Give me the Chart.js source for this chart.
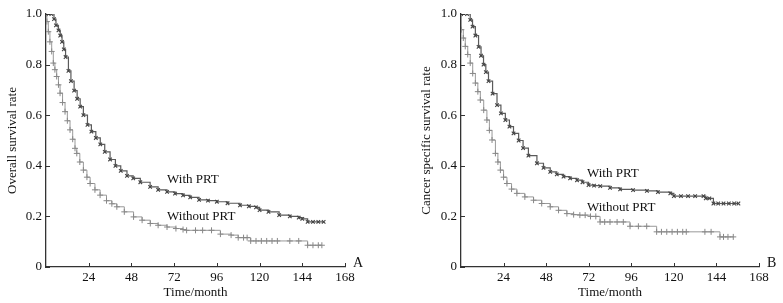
<!DOCTYPE html>
<html>
<head>
<meta charset="utf-8">
<script src="https://cdn.jsdelivr.net/npm/chart.js@4.4.0/dist/chart.umd.min.js"></script>
<style>
  body { margin: 0; background: #fff; }
  #wrapA { position: absolute; left: 0; top: 0; }
  #wrapB { position: absolute; left: 414px; top: 0; }
</style>
</head>
<body>
<div id="wrapA"><canvas id="chartA" width="392" height="303"></canvas></div>
<div id="wrapB"><canvas id="chartB" width="369" height="303"></canvas></div>
<script>
// tick labels
const xTickLabels = ['', '24', '48', '72', '96', '120', '144', '168'];
const yTickLabels = ['0', '0.2', '0.4', '0.6', '0.8', '1.0'];

// panel A - overall survival
const aWithT = [0, 3, 4.5, 5.6, 7, 8, 9, 10, 11, 12.6, 14, 15.8, 17.5, 19.2, 21, 23.3, 25.5, 28, 30.5, 33, 36, 39, 42, 45.5, 49, 53, 58.5, 63, 68, 72.5, 77, 81, 86, 91, 96, 102, 109, 114, 118, 120, 125, 131, 137, 142, 144, 147, 150, 153, 156];
const aWithV = [1.0, 1.0, 0.98, 0.955, 0.935, 0.915, 0.89, 0.86, 0.83, 0.775, 0.735, 0.697, 0.665, 0.634, 0.6, 0.562, 0.535, 0.51, 0.485, 0.455, 0.425, 0.4, 0.38, 0.36, 0.35, 0.335, 0.317, 0.305, 0.297, 0.29, 0.283, 0.275, 0.265, 0.262, 0.258, 0.252, 0.244, 0.24, 0.236, 0.225, 0.218, 0.205, 0.2, 0.195, 0.19, 0.178, 0.178, 0.178, 0.178];
const aWithoutT = [0, 0.5, 1.3, 2.2, 3.2, 4.1, 5, 6, 7, 7.9, 9.3, 10.7, 12, 13.5, 15, 16.3, 17.3, 19, 21, 23, 24.8, 27.5, 30.4, 34, 37, 39.8, 44, 49.2, 54, 58.6, 63, 68, 73, 77, 79, 84, 88, 93, 98, 104, 108, 111, 113, 115, 118, 121, 124, 127, 130, 137, 142, 147, 150, 153, 155];
const aWithoutV = [1.0, 0.97, 0.93, 0.89, 0.852, 0.806, 0.78, 0.753, 0.72, 0.687, 0.65, 0.614, 0.578, 0.542, 0.505, 0.469, 0.449, 0.415, 0.383, 0.355, 0.33, 0.305, 0.284, 0.262, 0.25, 0.238, 0.218, 0.198, 0.185, 0.172, 0.165, 0.158, 0.152, 0.148, 0.145, 0.145, 0.145, 0.145, 0.13, 0.126, 0.116, 0.116, 0.116, 0.103, 0.103, 0.103, 0.103, 0.103, 0.103, 0.103, 0.103, 0.086, 0.086, 0.086, 0.086];

// panel B - cancer specific survival
const bWithT = [0, 3.4, 5.2, 6.5, 8.1, 9.9, 11.3, 12.7, 14, 15.5, 17.8, 20.3, 22.5, 25, 27.3, 29.6, 32.5, 35, 38, 42.8, 46.5, 50.3, 54, 57.8, 61.5, 65.4, 68.5, 71.9, 75, 78.5, 84, 89.7, 97, 104.8, 111, 118, 120, 124, 128, 132, 136.7, 138, 140, 142.3, 145, 148, 151, 154, 156.4];
const bWithV = [1.0, 1.0, 0.977, 0.95, 0.915, 0.87, 0.835, 0.8, 0.77, 0.735, 0.685, 0.64, 0.607, 0.581, 0.555, 0.528, 0.5, 0.47, 0.44, 0.41, 0.392, 0.376, 0.366, 0.357, 0.35, 0.343, 0.335, 0.324, 0.322, 0.32, 0.313, 0.307, 0.304, 0.301, 0.296, 0.291, 0.28, 0.28, 0.28, 0.28, 0.28, 0.271, 0.271, 0.251, 0.251, 0.251, 0.251, 0.251, 0.251];
const bWithoutT = [0, 0.2, 1.3, 2.4, 3.8, 5.2, 6.6, 8.1, 9.5, 10.9, 12.8, 14.6, 16, 17.5, 19.4, 20.8, 22.2, 24, 25.9, 28.5, 31.5, 36, 40.9, 45.5, 50.3, 55, 59.7, 63.5, 67, 70, 73, 76, 78.4, 81, 84, 88, 91.5, 95.3, 100, 104.7, 110.3, 113, 116, 119, 122, 125, 127, 137.5, 141, 146, 148, 150.5, 153.5];
const bWithoutV = [1.0, 0.938, 0.905, 0.872, 0.84, 0.806, 0.765, 0.727, 0.693, 0.66, 0.62, 0.581, 0.54, 0.502, 0.449, 0.415, 0.383, 0.355, 0.33, 0.308, 0.291, 0.277, 0.264, 0.251, 0.238, 0.224, 0.211, 0.207, 0.205, 0.205, 0.2, 0.2, 0.178, 0.178, 0.178, 0.178, 0.178, 0.161, 0.161, 0.161, 0.139, 0.139, 0.139, 0.139, 0.139, 0.139, 0.139, 0.139, 0.139, 0.119, 0.119, 0.119, 0.119];

function pts(t, v) {
  return t.map((x, i) => ({ x: x, y: v[i] }));
}

// inner tick marks, curve labels, panel letter
const extras = {
  id: 'extras',
  afterDraw(chart, args, opts) {
    const { ctx, chartArea, scales } = chart;
    ctx.save();
    ctx.strokeStyle = '#333';
    ctx.lineWidth = 1;
    scales.x.ticks.forEach(t => {
      if (t.value === 0) return;
      const px = Math.round(scales.x.getPixelForValue(t.value)) + 0.5;
      ctx.beginPath();
      ctx.moveTo(px, chartArea.bottom);
      ctx.lineTo(px, chartArea.bottom - 4);
      ctx.stroke();
    });
    scales.y.ticks.forEach(t => {
      const py = Math.round(scales.y.getPixelForValue(t.value)) + 0.5;
      ctx.beginPath();
      ctx.moveTo(chartArea.left, py);
      ctx.lineTo(chartArea.left + 4, py);
      ctx.stroke();
    });
    ctx.fillStyle = '#111';
    ctx.textBaseline = 'middle';
    ctx.font = '13px "Liberation Serif"';
    opts.labels.forEach(l => {
      ctx.fillText(l.text, scales.x.getPixelForValue(l.t), scales.y.getPixelForValue(l.v));
    });
    ctx.font = '14px "Liberation Serif"';
    ctx.fillText(opts.letter, chartArea.right + 8, chartArea.bottom - 4);
    ctx.restore();
  }
};

function makeChart(id, withT, withV, woT, woV, yTitle, letter, labels, padRight, yWidth) {
  return new Chart(document.getElementById(id), {
    type: 'line',
    data: {
      datasets: [
        {
          label: 'Without PRT',
          data: pts(woT, woV),
          stepped: true,
          borderColor: '#999',
          borderWidth: 1,
          pointStyle: 'cross',
          pointRadius: 3,
          pointBorderColor: '#888',
          pointBorderWidth: 1,
          pointBackgroundColor: '#888'
        },
        {
          label: 'With PRT',
          data: pts(withT, withV),
          stepped: true,
          borderColor: '#5a5a5a',
          borderWidth: 1.2,
          pointStyle: 'crossRot',
          pointRadius: 2.5,
          pointBorderColor: '#444',
          pointBorderWidth: 1.1,
          pointBackgroundColor: '#444'
        }
      ]
    },
    options: {
      responsive: false,
      animation: false,
      layout: { padding: { top: 14, right: padRight, bottom: 0, left: 0 } },
      plugins: {
        legend: { display: false },
        tooltip: { enabled: false },
        extras: { labels: labels, letter: letter }
      },
      scales: {
        x: {
          type: 'linear',
          min: 0,
          max: 168,
          afterFit: s => { s.height = 36; },
          grid: { display: false, drawTicks: false },
          border: { display: true, color: '#333', width: 1.3 },
          ticks: {
            stepSize: 24,
            padding: 3,
            color: '#111',
            maxRotation: 0,
            font: { family: 'Liberation Serif', size: 13 },
            callback: (v, i) => xTickLabels[i]
          },
          title: {
            display: true,
            text: 'Time/month',
            color: '#111',
            font: { family: 'Liberation Serif', size: 13 },
            padding: { top: 0, bottom: 2.5 }
          }
        },
        y: {
          min: 0,
          max: 1,
          afterFit: s => { s.width = yWidth; },
          grid: { display: false, drawTicks: false },
          border: { display: true, color: '#333', width: 1.3 },
          ticks: {
            stepSize: 0.2,
            padding: 4,
            color: '#111',
            font: { family: 'Liberation Serif', size: 13 },
            callback: (v, i) => yTickLabels[i]
          },
          title: {
            display: true,
            text: yTitle,
            color: '#111',
            font: { family: 'Liberation Serif', size: 13 },
            padding: { top: 5, bottom: 0 }
          }
        }
      }
    },
    plugins: [extras]
  });
}

makeChart('chartA', aWithT, aWithV, aWithoutT, aWithoutV, 'Overall survival rate', 'A',
  [{ text: 'With PRT', t: 68, v: 0.347 }, { text: 'Without PRT', t: 68, v: 0.2 }], 47, 46);
makeChart('chartB', bWithT, bWithV, bWithoutT, bWithoutV, 'Cancer specific survival rate', 'B',
  [{ text: 'With PRT', t: 71, v: 0.37 }, { text: 'Without PRT', t: 71, v: 0.235 }], 24, 47);
</script>
</body>
</html>
